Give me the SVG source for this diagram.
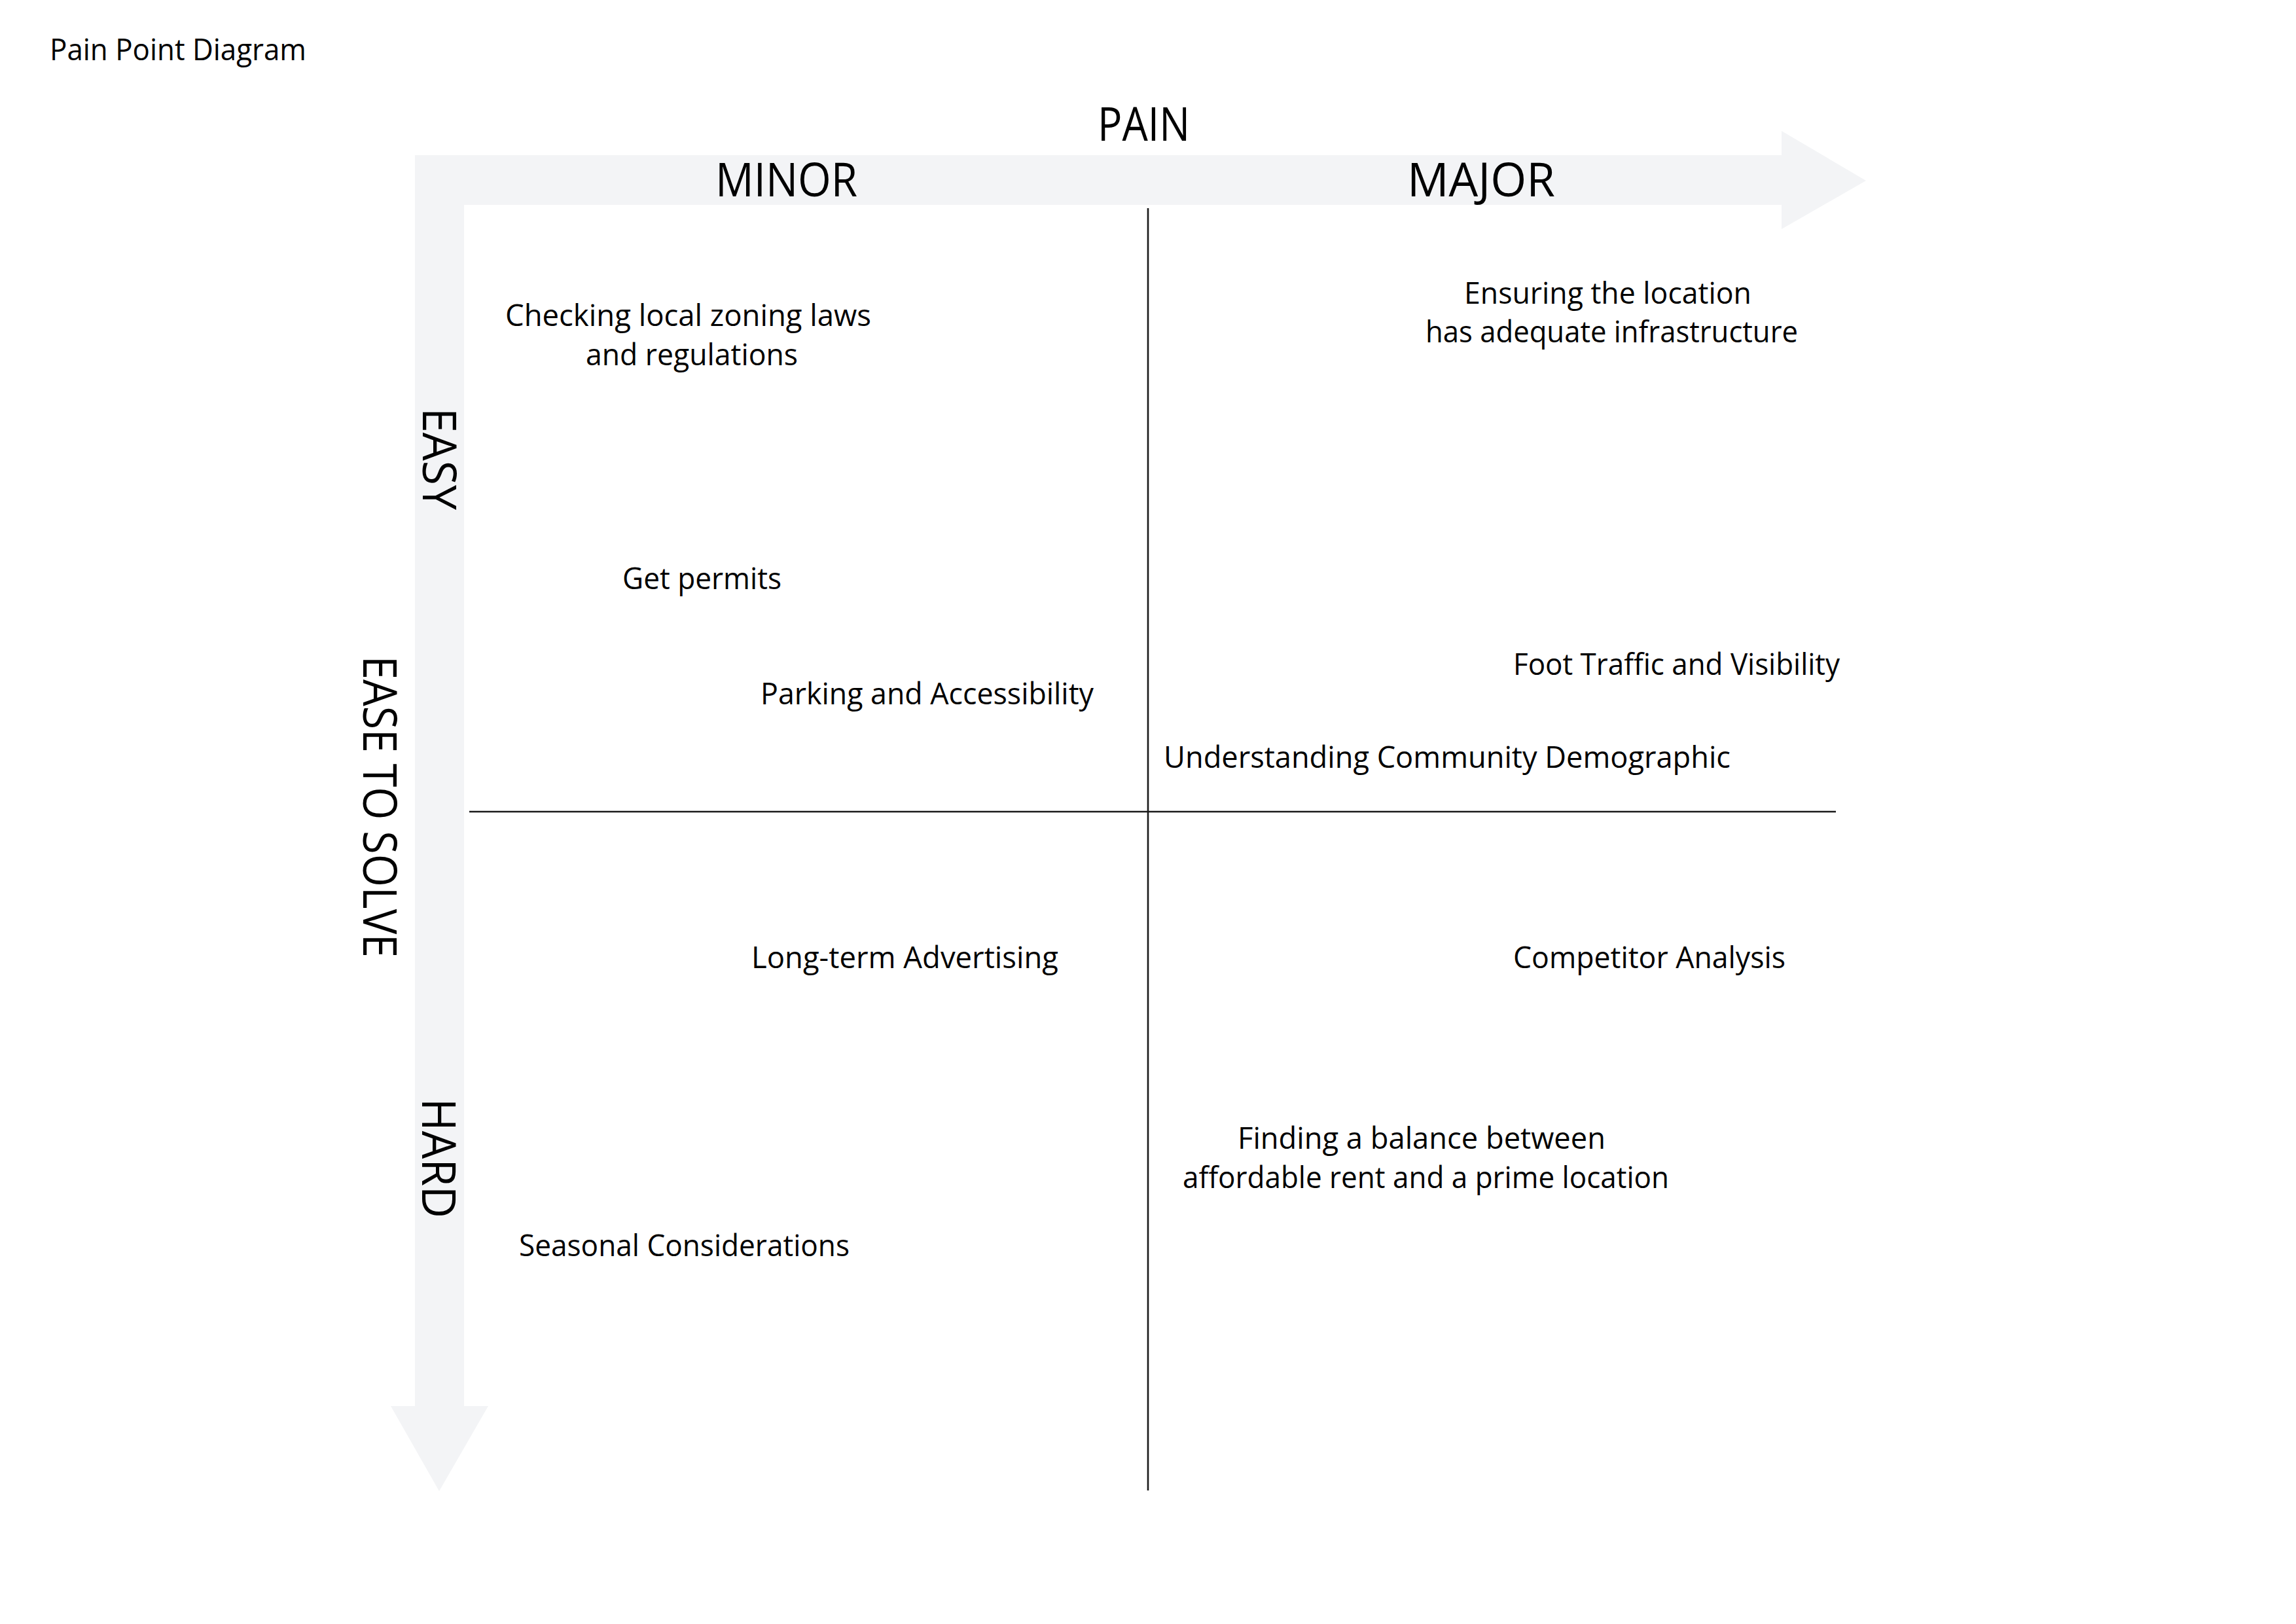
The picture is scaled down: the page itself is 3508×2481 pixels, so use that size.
<svg xmlns="http://www.w3.org/2000/svg" width="3508" height="2481" viewBox="0 0 3508 2481">
<style>
.t{font-family:"Open Sans","Noto Sans","Liberation Sans",sans-serif;font-size:46px;fill:#000;}
.big{font-family:"Open Sans","Noto Sans","Liberation Sans",sans-serif;font-size:72px;fill:#000;}
.band{fill:#F3F4F6;stroke:none;}
.qline{stroke:#1a1a1a;stroke-width:2.6;fill:none;}
</style>
<rect x="0" y="0" width="3508" height="2481" fill="#FFFFFF"/>
<g id="axes">
<path class="band" d="M634,237 L2722,237 L2722,200 L2851,276 L2722,350 L2722,313 L709,313 L709,2148 L746,2148 L671,2278 L597,2148 L634,2148 Z"/>
</g>
<g id="connectors">
<line class="qline" x1="1754" y1="318" x2="1754" y2="2277"/>
<line class="qline" x1="717" y1="1240" x2="2805" y2="1240"/>
</g>
<g id="title"><text class="t" x="76" y="92" textLength="392" lengthAdjust="spacingAndGlyphs">Pain Point Diagram</text></g>
<g id="label-pain"><text class="big" x="1677" y="215" textLength="141" lengthAdjust="spacingAndGlyphs">PAIN</text></g>
<g id="label-minor"><text class="big" x="1093" y="300" textLength="217" lengthAdjust="spacingAndGlyphs">MINOR</text></g>
<g id="label-major"><text class="big" x="2150" y="300" textLength="226" lengthAdjust="spacingAndGlyphs">MAJOR</text></g>
<g id="label-easy"><text class="big" transform="translate(646,623) rotate(90)" x="0" y="0" textLength="156" lengthAdjust="spacingAndGlyphs">EASY</text></g>
<g id="label-ease-to-solve"><text class="big" transform="translate(555,1002) rotate(90)" x="0" y="0" textLength="461" lengthAdjust="spacingAndGlyphs">EASE TO SOLVE</text></g>
<g id="label-hard"><text class="big" transform="translate(645,1678) rotate(90)" x="0" y="0" textLength="183" lengthAdjust="spacingAndGlyphs">HARD</text></g>
<g id="node-zoning">
<text class="t" x="772" y="498" textLength="559" lengthAdjust="spacingAndGlyphs">Checking local zoning laws</text>
<text class="t" x="895" y="558" textLength="324" lengthAdjust="spacingAndGlyphs">and regulations</text>
</g>
<g id="node-infrastructure">
<text class="t" x="2237" y="464" textLength="439" lengthAdjust="spacingAndGlyphs">Ensuring the location</text>
<text class="t" x="2178" y="523" textLength="569" lengthAdjust="spacingAndGlyphs">has adequate infrastructure</text>
</g>
<g id="node-permits"><text class="t" x="951" y="900" textLength="243" lengthAdjust="spacingAndGlyphs">Get permits</text></g>
<g id="node-parking"><text class="t" x="1162" y="1076" textLength="509" lengthAdjust="spacingAndGlyphs">Parking and Accessibility</text></g>
<g id="node-foot-traffic"><text class="t" x="2312" y="1031" textLength="499" lengthAdjust="spacingAndGlyphs">Foot Traffic and Visibility</text></g>
<g id="node-demographic"><text class="t" x="1778" y="1173" textLength="866" lengthAdjust="spacingAndGlyphs">Understanding Community Demographic</text></g>
<g id="node-advertising"><text class="t" x="1148" y="1479" textLength="469" lengthAdjust="spacingAndGlyphs">Long-term Advertising</text></g>
<g id="node-competitor"><text class="t" x="2312" y="1479" textLength="416" lengthAdjust="spacingAndGlyphs">Competitor Analysis</text></g>
<g id="node-rent">
<text class="t" x="1891" y="1755" textLength="562" lengthAdjust="spacingAndGlyphs">Finding a balance between</text>
<text class="t" x="1807" y="1815" textLength="743" lengthAdjust="spacingAndGlyphs">affordable rent and a prime location</text>
</g>
<g id="node-seasonal"><text class="t" x="793" y="1919" textLength="505" lengthAdjust="spacingAndGlyphs">Seasonal Considerations</text></g>
</svg>
